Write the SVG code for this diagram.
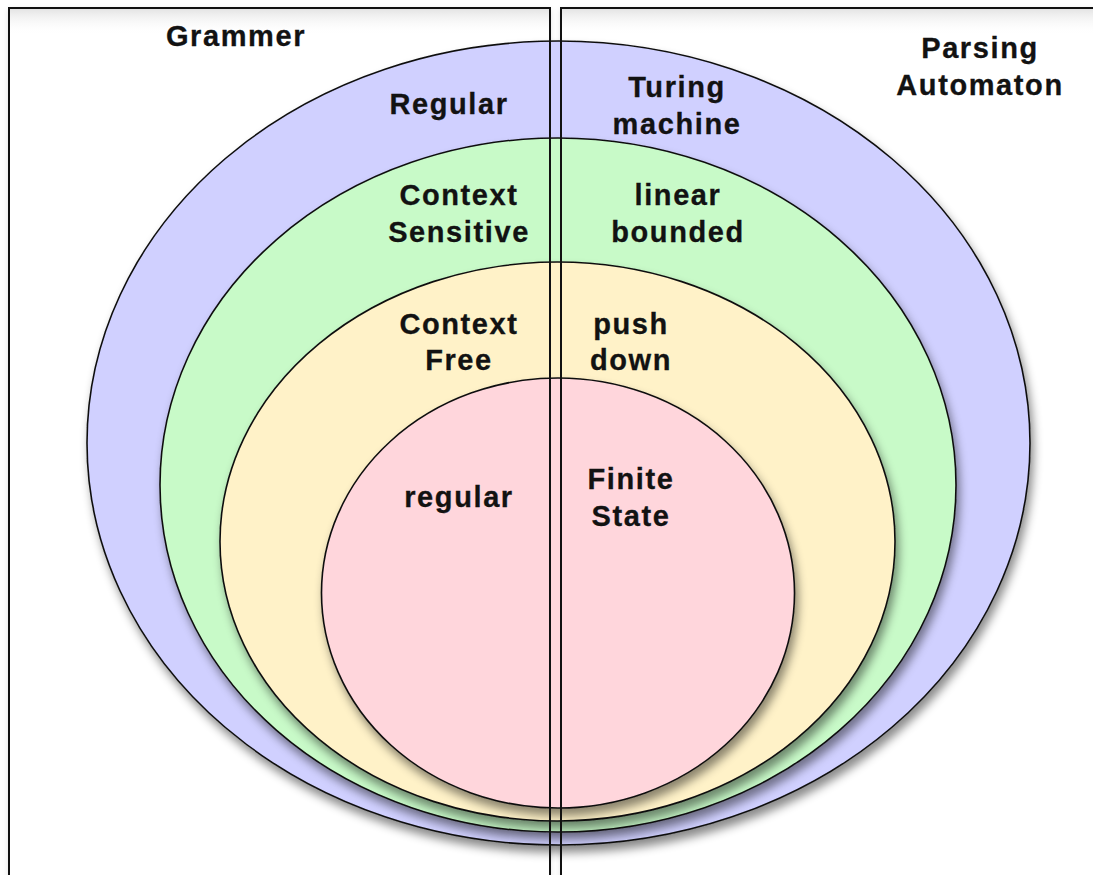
<svg xmlns="http://www.w3.org/2000/svg" width="1093" height="875" viewBox="0 0 1093 875">
  <style>
    .lbl { font-family: "Liberation Sans", Arial, Helvetica, sans-serif; font-weight: bold; font-size: 29px; letter-spacing: 1.6px; fill: #121212; stroke: #121212; stroke-width: 0.3; text-anchor: middle; }
    .ring { stroke: #111; stroke-width: 1.6; }
    .frame { fill: none; stroke: #111; stroke-width: 2; }
  </style>
  <defs>
    <filter id="shadow" x="-10%" y="-10%" width="120%" height="125%">
      <feDropShadow dx="3" dy="7" stdDeviation="5" flood-color="#000" flood-opacity="0.45"/>
    </filter>
    <filter id="boxShadow" x="-5%" y="-5%" width="110%" height="110%">
      <feDropShadow dx="0" dy="2" stdDeviation="3" flood-color="#000" flood-opacity="0.15"/>
    </filter>
    <!-- soft inner shading along the top edge of each panel -->
    <linearGradient id="topShade" x1="0" y1="0" x2="0" y2="1">
      <stop offset="0" stop-color="#e4e4e4"/>
      <stop offset="1" stop-color="#ffffff" stop-opacity="0"/>
    </linearGradient>
  </defs>

  <rect width="1093" height="875" fill="#fff"/>

  <!-- panel backgrounds -->
  <g id="panel-bg">
    <rect x="9" y="8" width="541" height="880" fill="#fff" filter="url(#boxShadow)"/>
    <rect x="561" y="8" width="545" height="880" fill="#fff" filter="url(#boxShadow)"/>
    <rect x="10" y="9" width="539" height="26" fill="url(#topShade)"/>
    <rect x="562" y="9" width="540" height="26" fill="url(#topShade)"/>
  </g>

  <!-- nested language classes -->
  <g id="turing" filter="url(#shadow)">
    <ellipse class="ring" cx="558.5" cy="443" rx="471.5" ry="402" fill="#d0d0ff"/>
  </g>
  <g id="context-sensitive" filter="url(#shadow)">
    <ellipse class="ring" cx="558" cy="485" rx="398" ry="347" fill="#c8fac8"/>
  </g>
  <g id="context-free" filter="url(#shadow)">
    <ellipse class="ring" cx="557.5" cy="541.5" rx="337.5" ry="279.5" fill="#fff2c8"/>
  </g>
  <g id="regular" filter="url(#shadow)">
    <ellipse class="ring" cx="558" cy="593" rx="236.5" ry="215" fill="#ffd6dc"/>
  </g>

  <!-- panel outlines drawn over the rings -->
  <g id="grammar-panel">
    <rect class="frame" x="9" y="8" width="541" height="880"/>
    <text class="lbl" x="236" y="46">Grammer</text>
  </g>
  <g id="automaton-panel">
    <rect class="frame" x="561" y="8" width="545" height="880"/>
    <text class="lbl" x="980" y="58">Parsing</text>
    <text class="lbl" x="980" y="95">Automaton</text>
  </g>

  <!-- labels -->
  <g id="labels">
    <text class="lbl" x="449" y="114">Regular</text>
    <text class="lbl" x="677" y="97">Turing</text>
    <text class="lbl" x="677" y="134">machine</text>

    <text class="lbl" x="459" y="205">Context</text>
    <text class="lbl" x="459" y="242">Sensitive</text>
    <text class="lbl" x="678" y="205">linear</text>
    <text class="lbl" x="678" y="242">bounded</text>

    <text class="lbl" x="459" y="334">Context</text>
    <text class="lbl" x="459" y="370">Free</text>
    <text class="lbl" x="631" y="334">push</text>
    <text class="lbl" x="631" y="370">down</text>

    <text class="lbl" x="459" y="507">regular</text>
    <text class="lbl" x="631" y="489">Finite</text>
    <text class="lbl" x="631" y="526">State</text>
  </g>
</svg>
